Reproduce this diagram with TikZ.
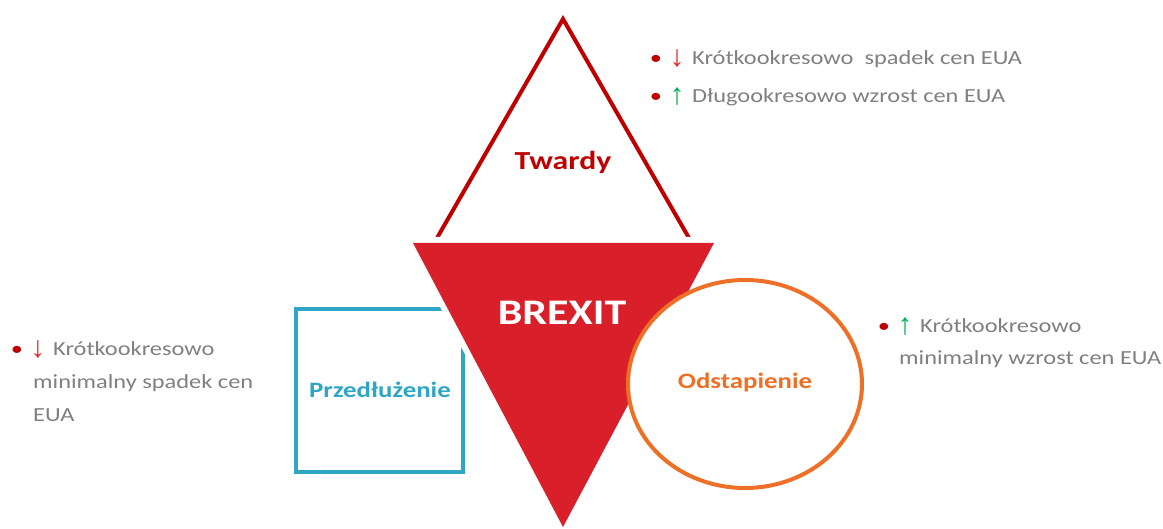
\documentclass[tikz,border=0pt]{standalone}
\usepackage{fontspec}
\setmainfont{Carlito}[FakeStretch=1.22]
\newfontfamily\arrowfont{Liberation Sans}
\definecolor{brexred}{HTML}{D91F29}
\definecolor{hardred}{HTML}{C00000}
\definecolor{boxteal}{HTML}{2FA6C4}
\definecolor{ovalorange}{HTML}{EE7026}
\definecolor{notegray}{HTML}{808080}
\definecolor{upgreen}{HTML}{00B050}
\definecolor{downred}{HTML}{E8242B}
\tikzset{
  note/.style={anchor=base west, inner sep=0pt, text=notegray,
    font=\fontsize{20}{24}\selectfont},
  dot/.style={anchor=base, inner sep=0pt, text=hardred,
    font=\fontsize{20}{24}\selectfont},
  uparrow/.style={anchor=base, inner sep=0pt, text=upgreen,
    font=\arrowfont\fontsize{30}{32}\selectfont},
  downarrow/.style={anchor=base, inner sep=0pt, text=downred,
    font=\arrowfont\fontsize{30}{32}\selectfont},
  title/.style={inner sep=0pt, font=\bfseries\fontsize{22}{26}\selectfont}
}
\begin{document}
\begin{tikzpicture}[x=1pt,y=-1pt]
\useasboundingbox[fill=white] (0,0) rectangle (1163,529);

% extension: square behind the main triangle
\draw[boxteal, line width=4pt] (296,309) rectangle (463,472);

% hard brexit: open triangle above
\draw[hardred, line width=4pt, line join=miter] (437,238) -- (563,19) -- (689,238);

% main triangle with a white halo
\draw[white, line width=12pt, line join=round]
  (413,243) -- (714,243) -- (563,527) -- cycle;
\fill[brexred] (413,243) -- (714,243) -- (563,527) -- cycle;

% withdrawal: ellipse on top
\draw[ovalorange, line width=4pt, fill=white] (745,384) ellipse [x radius=117, y radius=104];

% labels
\node[title, text=hardred, font=\bfseries\fontsize{26}{30}\selectfont] (twardy) at (563,162) {Twardy};
\node[title, text=white, font=\bfseries\fontsize{36}{42}\selectfont] (brexit) at (562,313) {BREXIT};
\node[title, text=boxteal] (przed) at (380,390) {Przedłużenie};
\node[title, text=ovalorange] (odst) at (745,383) {Odstapienie};

% notes: hard brexit
\node[dot] (b1) at (656,65) {•};
\node[downarrow] (a1) at (677,67) {↓};
\node[note] (t1) at (692,65) {Krótkookresowo \ spadek cen EUA};
\node[dot] (b2) at (656,103) {•};
\node[uparrow] (a2) at (677,105) {↑};
\node[note] (t2) at (692,103) {Długookresowo wzrost cen EUA};

% notes: extension
\node[dot] (b3) at (17,356) {•};
\node[downarrow] (a3) at (38,358) {↓};
\node[note] (t3) at (53,356) {Krótkookresowo};
\node[note] (t4) at (33,389) {minimalny spadek cen};
\node[note] (t5) at (33,421) {EUA};

% notes: withdrawal
\node[dot] (b4) at (884,333) {•};
\node[uparrow] (a4) at (905,335) {↑};
\node[note] (t6) at (920,333) {Krótkookresowo};
\node[note] (t7) at (899,365) {minimalny wzrost cen EUA};
\end{tikzpicture}
\end{document}
